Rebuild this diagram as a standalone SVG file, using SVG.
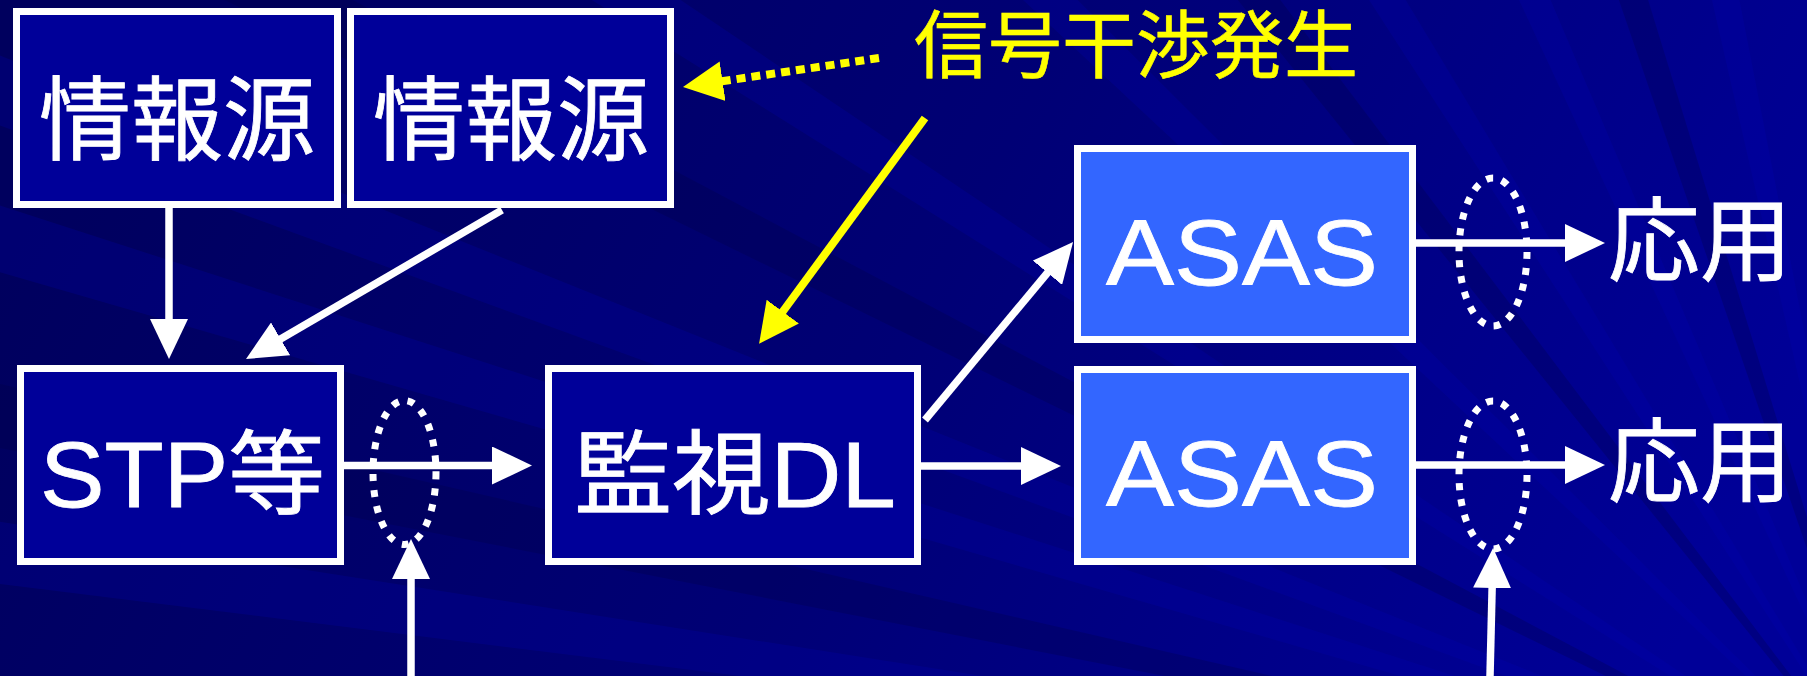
<svg xmlns="http://www.w3.org/2000/svg" width="1807" height="676" viewBox="0 0 1807 676">
<defs>
<linearGradient id="bg" x1="0" y1="0.4" x2="1" y2="0.6">
<stop offset="0" stop-color="#00005E"/>
<stop offset="0.5" stop-color="#000075"/>
<stop offset="1" stop-color="#000098"/>
</linearGradient>
<marker id="ah" markerUnits="userSpaceOnUse" markerWidth="40" markerHeight="38" refX="3" refY="19" orient="auto" viewBox="0 0 40 38">
<path d="M0,0 L40,19 L0,38 Z" fill="#FFFFFF"/>
</marker>
<marker id="ahy" markerUnits="userSpaceOnUse" markerWidth="40" markerHeight="40" refX="3" refY="20" orient="auto" viewBox="0 0 40 40">
<path d="M0,0 L40,20 L0,40 Z" fill="#FFFF00"/>
</marker>
<polygon id="ray" points="1900,820 -900,775 -900,865"/>
</defs>
<style>
.box{fill:#000099;stroke:#FFFFFF;stroke-width:7}
.box2{fill:#3366FF;stroke:#FFFFFF;stroke-width:7}
.lbl{fill:#FFFFFF;stroke:#FFFFFF;stroke-width:0.8;font-family:"Liberation Sans","Noto Sans CJK JP",sans-serif;font-size:92px}
.ylbl{fill:#FFFF00;stroke:#FFFF00;stroke-width:0.6;font-family:"Noto Sans CJK JP",sans-serif;font-size:74px}
.ln{fill:none;stroke:#FFFFFF;stroke-width:7.5}
.yln{fill:none;stroke:#FFFF00;stroke-width:8}
.dot{fill:none;stroke:#FFFFFF;stroke-width:7;stroke-dasharray:7 9}
.r1{fill:#0000B4;opacity:0.22}
.r2{fill:#000040;opacity:0.25}
</style>
<g id="background">
<rect x="0" y="0" width="1807" height="676" fill="url(#bg)"/>
<use href="#ray" class="r1" transform="rotate(8 1900 820)"/>
<use href="#ray" class="r2" transform="rotate(12 1900 820)"/>
<use href="#ray" class="r1" transform="rotate(17 1900 820)"/>
<use href="#ray" class="r1" transform="rotate(21 1900 820)"/>
<use href="#ray" class="r2" transform="rotate(27 1900 820)"/>
<use href="#ray" class="r1" transform="rotate(33 1900 820)"/>
<use href="#ray" class="r1" transform="rotate(44 1900 820)"/>
<use href="#ray" class="r2" transform="rotate(52 1900 820)"/>
<use href="#ray" class="r1" transform="rotate(58 1900 820)"/>
<use href="#ray" class="r1" transform="rotate(66 1900 820)"/>
<use href="#ray" class="r2" transform="rotate(72 1900 820)"/>
<use href="#ray" class="r1" transform="rotate(78 1900 820)"/>
<use href="#ray" class="r1" transform="rotate(85 1900 820)"/>
</g>
<g id="connectors">
<path class="ln" d="M169,208 V322" marker-end="url(#ah)"/>
<path class="ln" d="M502,210 L278,340.4" marker-end="url(#ah)"/>
<path class="ln" d="M344,465.5 H495" marker-end="url(#ah)"/>
<path class="ln" d="M921,466 H1024" marker-end="url(#ah)"/>
<path class="ln" d="M925,420 L1049.4,270.5" marker-end="url(#ah)"/>
<path class="ln" d="M1416,243 H1568" marker-end="url(#ah)"/>
<path class="ln" d="M1416,465 H1568" marker-end="url(#ah)"/>
<path class="ln" d="M411,676 V576" marker-end="url(#ah)"/>
<path class="ln" d="M1490,676 L1492.2,585" marker-end="url(#ah)"/>
<path class="yln" d="M925,118 L781,314" marker-end="url(#ahy)"/>
<path class="yln" d="M879,58 L719.6,81.6" stroke-dasharray="9 6" marker-end="url(#ahy)"/>
<ellipse class="dot" cx="404.5" cy="472.5" rx="31.5" ry="72"/>
<ellipse class="dot" cx="1493" cy="252" rx="34" ry="74"/>
<ellipse class="dot" cx="1493" cy="475" rx="34" ry="74"/>
</g>
<g id="node-src1">
<rect class="box" x="16.5" y="11.5" width="321" height="193"/>
<text class="lbl" x="177" y="153" text-anchor="middle">情報源</text>
</g>
<g id="node-src2">
<rect class="box" x="350.5" y="11.5" width="320" height="193"/>
<text class="lbl" x="511" y="153" text-anchor="middle">情報源</text>
</g>
<g id="node-stp">
<rect class="box" x="20.5" y="368.5" width="320" height="193"/>
<text class="lbl" x="40" y="507" textLength="285" lengthAdjust="spacingAndGlyphs">STP等</text>
</g>
<g id="node-dl">
<rect class="box" x="548.5" y="368.5" width="369" height="193"/>
<text class="lbl" x="574" y="507" textLength="322" lengthAdjust="spacingAndGlyphs">監視DL</text>
</g>
<g id="node-asas1">
<rect class="box2" x="1077.5" y="148.5" width="335" height="191"/>
<text class="lbl" x="1106" y="285" textLength="272" lengthAdjust="spacingAndGlyphs">ASAS</text>
</g>
<g id="node-asas2">
<rect class="box2" x="1077.5" y="369.5" width="335" height="192"/>
<text class="lbl" x="1106" y="506" textLength="272" lengthAdjust="spacingAndGlyphs">ASAS</text>
</g>
<g id="node-app1">
<text class="lbl" x="1608" y="274">応用</text>
</g>
<g id="node-app2">
<text class="lbl" x="1608" y="495">応用</text>
</g>
<g id="note">
<text class="ylbl" x="914" y="72">信号干渉発生</text>
</g>
</svg>
